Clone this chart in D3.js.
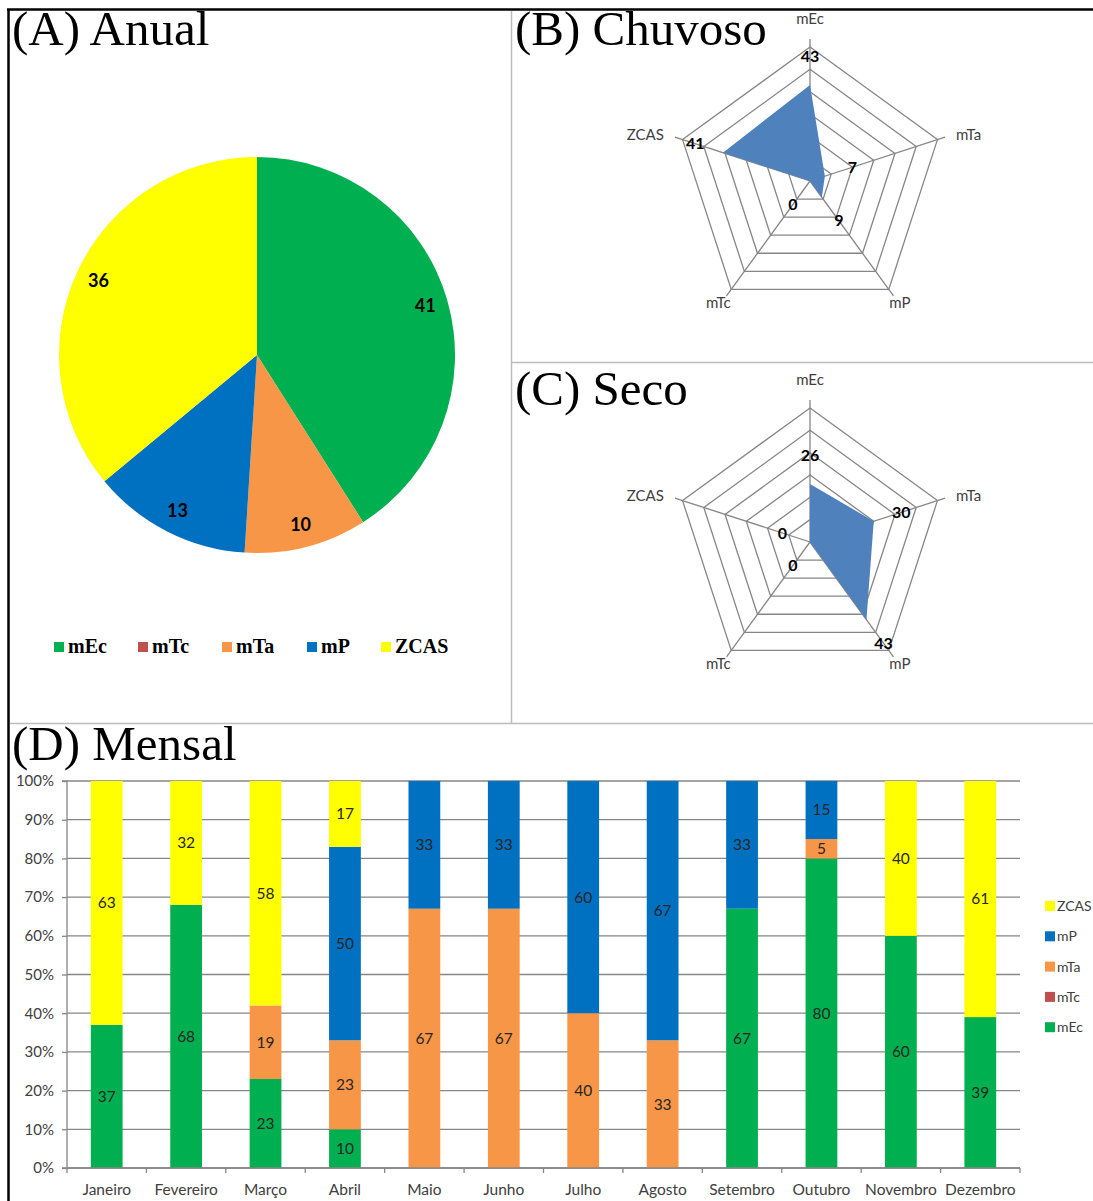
<!DOCTYPE html>
<html>
<head>
<meta charset="utf-8">
<script src="https://cdn.jsdelivr.net/npm/d3@7"></script>
<style>
  html, body { margin: 0; padding: 0; background: #fff; }
  svg { display: block; }
  .title { font-family: "Liberation Serif", "Times New Roman", serif; font-size: 49px; fill: #000; }
  .sans { font-family: Lato, "Open Sans", sans-serif; }
</style>
</head>
<body>
<svg id="fig" width="1093" height="1201"></svg>
<script>
// Air masses / systems
const systems = ["mEc", "mTc", "mTa", "mP", "ZCAS"];
const colors = ["#00B050", "#C0504D", "#F79646", "#0070C0", "#FFFF00"];

// (A) annual share, %
const annual = [41, 0, 10, 13, 36];

// (B) rainy season and (C) dry season, %
const radarAxes = ["mEc", "mTa", "mP", "mTc", "ZCAS"];
const rainy = [43, 7, 9, 0, 41];
const dry = [26, 30, 43, 0, 0];
const radarMax = 60;
const radarRings = [10, 20, 30, 40, 50, 60];

// (D) monthly share, %
const months = ["Janeiro", "Fevereiro", "Março", "Abril", "Maio", "Junho", "Julho", "Agosto", "Setembro", "Outubro", "Novembro", "Dezembro"];
const mEc  = [37, 68, 23, 10, 0, 0, 0, 0, 67, 80, 60, 39];
const mTc  = [0, 0, 0, 0, 0, 0, 0, 0, 0, 0, 0, 0];
const mTa  = [0, 0, 19, 23, 67, 67, 40, 33, 0, 5, 0, 0];
const mP   = [0, 0, 0, 50, 33, 33, 60, 67, 33, 15, 0, 0];
const ZCAS = [63, 32, 58, 17, 0, 0, 0, 0, 0, 0, 40, 61];
const yTicks = [0, 10, 20, 30, 40, 50, 60, 70, 80, 90, 100];

const svg = d3.select("#fig");
const color = d3.scaleOrdinal().domain(systems).range(colors);

// ---------- panel frame ----------
svg.append("line").attr("x1", 7).attr("x2", 1093).attr("y1", 9.5).attr("y2", 9.5)
  .attr("stroke", "#000").attr("stroke-width", 2.5);
svg.append("line").attr("x1", 8.5).attr("x2", 8.5).attr("y1", 9).attr("y2", 1201)
  .attr("stroke", "#000").attr("stroke-width", 2.5);
const divider = "#bdbdbd";
svg.append("line").attr("x1", 511.5).attr("x2", 511.5).attr("y1", 11).attr("y2", 723)
  .attr("stroke", divider).attr("stroke-width", 1.5);
svg.append("line").attr("x1", 511).attr("x2", 1093).attr("y1", 362.5).attr("y2", 362.5)
  .attr("stroke", divider).attr("stroke-width", 1.5);
svg.append("line").attr("x1", 10).attr("x2", 1093).attr("y1", 723.5).attr("y2", 723.5)
  .attr("stroke", divider).attr("stroke-width", 1.5);

// ---------- titles ----------
svg.append("text").attr("class", "title").attr("x", 12).attr("y", 45).text("(A) Anual");
svg.append("text").attr("class", "title").attr("x", 515).attr("y", 45).text("(B) Chuvoso");
svg.append("text").attr("class", "title").attr("x", 515).attr("y", 405).text("(C) Seco");
svg.append("text").attr("class", "title").attr("x", 12).attr("y", 760).text("(D) Mensal");

// ---------- (A) pie ----------
{
  const cx = 257, cy = 355, R = 198;
  const data = systems.map((s, i) => ({ name: s, value: annual[i] }));
  const pie = d3.pie().sort(null).value(d => d.value);
  const arcs = pie(data);
  const arc = d3.arc().innerRadius(0).outerRadius(R);
  const labelArc = d3.arc().innerRadius(R * 0.885).outerRadius(R * 0.885);
  const g = svg.append("g").attr("transform", `translate(${cx},${cy})`);
  g.selectAll("path").data(arcs.filter(a => a.data.value > 0)).join("path")
    .attr("d", arc).attr("fill", d => color(d.data.name));
  g.selectAll("text").data(arcs.filter(a => a.data.value > 0)).join("text")
    .attr("class", "sans")
    .attr("transform", d => `translate(${labelArc.centroid(d)})`)
    .attr("text-anchor", "middle").attr("dy", "0.35em")
    .attr("font-size", 18).attr("font-weight", "bold").attr("fill", "#000")
    .text(d => d.data.value);

  // legend
  const legX = [54, 138, 222, 307, 381];
  const lg = svg.append("g");
  systems.forEach((s, i) => {
    lg.append("rect").attr("x", legX[i]).attr("y", 642).attr("width", 10).attr("height", 10)
      .attr("fill", color(s));
    lg.append("text").attr("x", legX[i] + 14).attr("y", 653)
      .attr("font-family", "'Liberation Serif', 'Times New Roman', serif")
      .attr("font-weight", "bold").attr("font-size", 20).attr("fill", "#000").text(s);
  });
}

// ---------- (B), (C) radars ----------
function radar(cx, cy, values) {
  const R = 134;
  const n = radarAxes.length;
  const r = d3.scaleLinear().domain([0, radarMax]).range([0, R]);
  const ang = i => (i / n) * 2 * Math.PI;
  const pt = (i, rad) => [cx + rad * Math.sin(ang(i)), cy - rad * Math.cos(ang(i))];
  const g = svg.append("g");
  const ringLine = d3.line();

  // rings
  radarRings.forEach(v => {
    g.append("path")
      .attr("d", ringLine(d3.range(n).map(i => pt(i, r(v)))) + "Z")
      .attr("fill", "none").attr("stroke", "#868686").attr("stroke-width", 1.3);
  });
  // spokes
  d3.range(n).forEach(i => {
    const [x2, y2] = pt(i, R + 8);
    g.append("line").attr("x1", cx).attr("y1", cy).attr("x2", x2).attr("y2", y2)
      .attr("stroke", "#868686").attr("stroke-width", 1.3);
  });
  // data polygon over the web
  g.append("path")
    .attr("d", ringLine(values.map((v, i) => pt(i, r(v)))) + "Z")
    .attr("fill", "#4F81BD");

  // axis names
  const anchors = ["middle", "start", "start", "end", "end"];
  const nameOffsets = [[0, 0], [-8, 4], [-16, -9], [16, -9], [8, 4]];
  d3.range(n).forEach(i => {
    const [x, y] = pt(i, 162);
    g.append("text").attr("class", "sans")
      .attr("x", x + nameOffsets[i][0]).attr("y", y + nameOffsets[i][1])
      .attr("text-anchor", anchors[i]).attr("dy", "0.35em")
      .attr("font-size", 15).attr("fill", "#404040").text(radarAxes[i]);
  });
  // value labels, pushed out along each spoke
  values.forEach((v, i) => {
    const [x, y] = pt(i, r(v) + 29);
    g.append("text").attr("class", "sans")
      .attr("x", x).attr("y", y).attr("text-anchor", "middle").attr("dy", "0.35em")
      .attr("font-size", 16).attr("font-weight", "bold").attr("fill", "#000").text(v);
  });
}
radar(810, 181, rainy);
radar(810, 542, dry);

// ---------- (D) stacked bars ----------
{
  const left = 67, right = 1020, top = 781, bottom = 1168;
  const x = d3.scaleBand().domain(months).range([left, right]).paddingInner(0.6).paddingOuter(0.3);
  const xb = d3.scaleBand().domain(months).range([left, right]);
  const y = d3.scaleLinear().domain([0, 100]).range([bottom, top]);

  const g = svg.append("g");
  // gridlines
  g.selectAll("line.grid").data(yTicks).join("line").attr("class", "grid")
    .attr("x1", left).attr("x2", right).attr("y1", d => y(d)).attr("y2", d => y(d))
    .attr("stroke", "#868686").attr("stroke-width", 1.3);

  const rows = months.map((m, i) => ({ month: m, mEc: mEc[i], mTc: mTc[i], mTa: mTa[i], mP: mP[i], ZCAS: ZCAS[i] }));
  const stacked = d3.stack().keys(systems)(rows);
  const layer = g.selectAll("g.layer").data(stacked).join("g").attr("class", "layer")
    .attr("fill", d => color(d.key));
  layer.selectAll("rect").data(d => d.filter(s => s[1] > s[0])).join("rect")
    .attr("x", d => x(d.data.month)).attr("width", x.bandwidth())
    .attr("y", d => y(d[1])).attr("height", d => y(d[0]) - y(d[1]));
  layer.selectAll("text").data(d => d.filter(s => s[1] > s[0])).join("text")
    .attr("class", "sans")
    .attr("x", d => x(d.data.month) + x.bandwidth() / 2)
    .attr("y", d => (y(d[0]) + y(d[1])) / 2).attr("dy", "0.35em")
    .attr("text-anchor", "middle").attr("font-size", 15.5).attr("fill", "#262626")
    .text(d => d[1] - d[0]);

  // y axis
  const yAxis = d3.axisLeft(y).tickValues(yTicks).tickFormat(d => d + "%").tickSize(5).tickPadding(8);
  const ya = g.append("g").attr("transform", `translate(${left},0)`).call(yAxis);
  ya.select(".domain").attr("stroke", "#868686").attr("stroke-width", 1.3).attr("d", `M-5,${top}H0V${bottom}H-5`);
  ya.selectAll(".tick line").attr("stroke", "#868686").attr("stroke-width", 1.3);
  ya.selectAll(".tick text").attr("font-family", "Lato, 'Open Sans', sans-serif").attr("font-size", 15).attr("fill", "#404040");

  // x axis with ticks at band edges
  const xa = g.append("g").attr("transform", `translate(0,${bottom})`);
  xa.append("line").attr("x1", left).attr("x2", right).attr("y1", 0).attr("y2", 0)
    .attr("stroke", "#868686").attr("stroke-width", 1.3);
  const edges = months.map(m => xb(m)).concat([right]);
  xa.selectAll("line.tk").data(edges).join("line").attr("class", "tk")
    .attr("x1", d => d).attr("x2", d => d).attr("y1", 0).attr("y2", 5)
    .attr("stroke", "#868686").attr("stroke-width", 1.3);
  xa.selectAll("text").data(months).join("text").attr("class", "sans")
    .attr("x", d => xb(d) + xb.bandwidth() / 2).attr("y", 27)
    .attr("text-anchor", "middle").attr("font-size", 15.5).attr("fill", "#404040").text(d => d);

  // legend
  const legOrder = systems.slice().reverse();
  const lg = svg.append("g");
  legOrder.forEach((s, i) => {
    const ly = 906 + i * 30.3;
    lg.append("rect").attr("x", 1045).attr("y", ly - 5).attr("width", 10).attr("height", 10).attr("fill", color(s));
    lg.append("text").attr("class", "sans").attr("x", 1057).attr("y", ly).attr("dy", "0.35em")
      .attr("font-size", 14).attr("fill", "#404040").text(s);
  });
}
</script>
</body>
</html>
